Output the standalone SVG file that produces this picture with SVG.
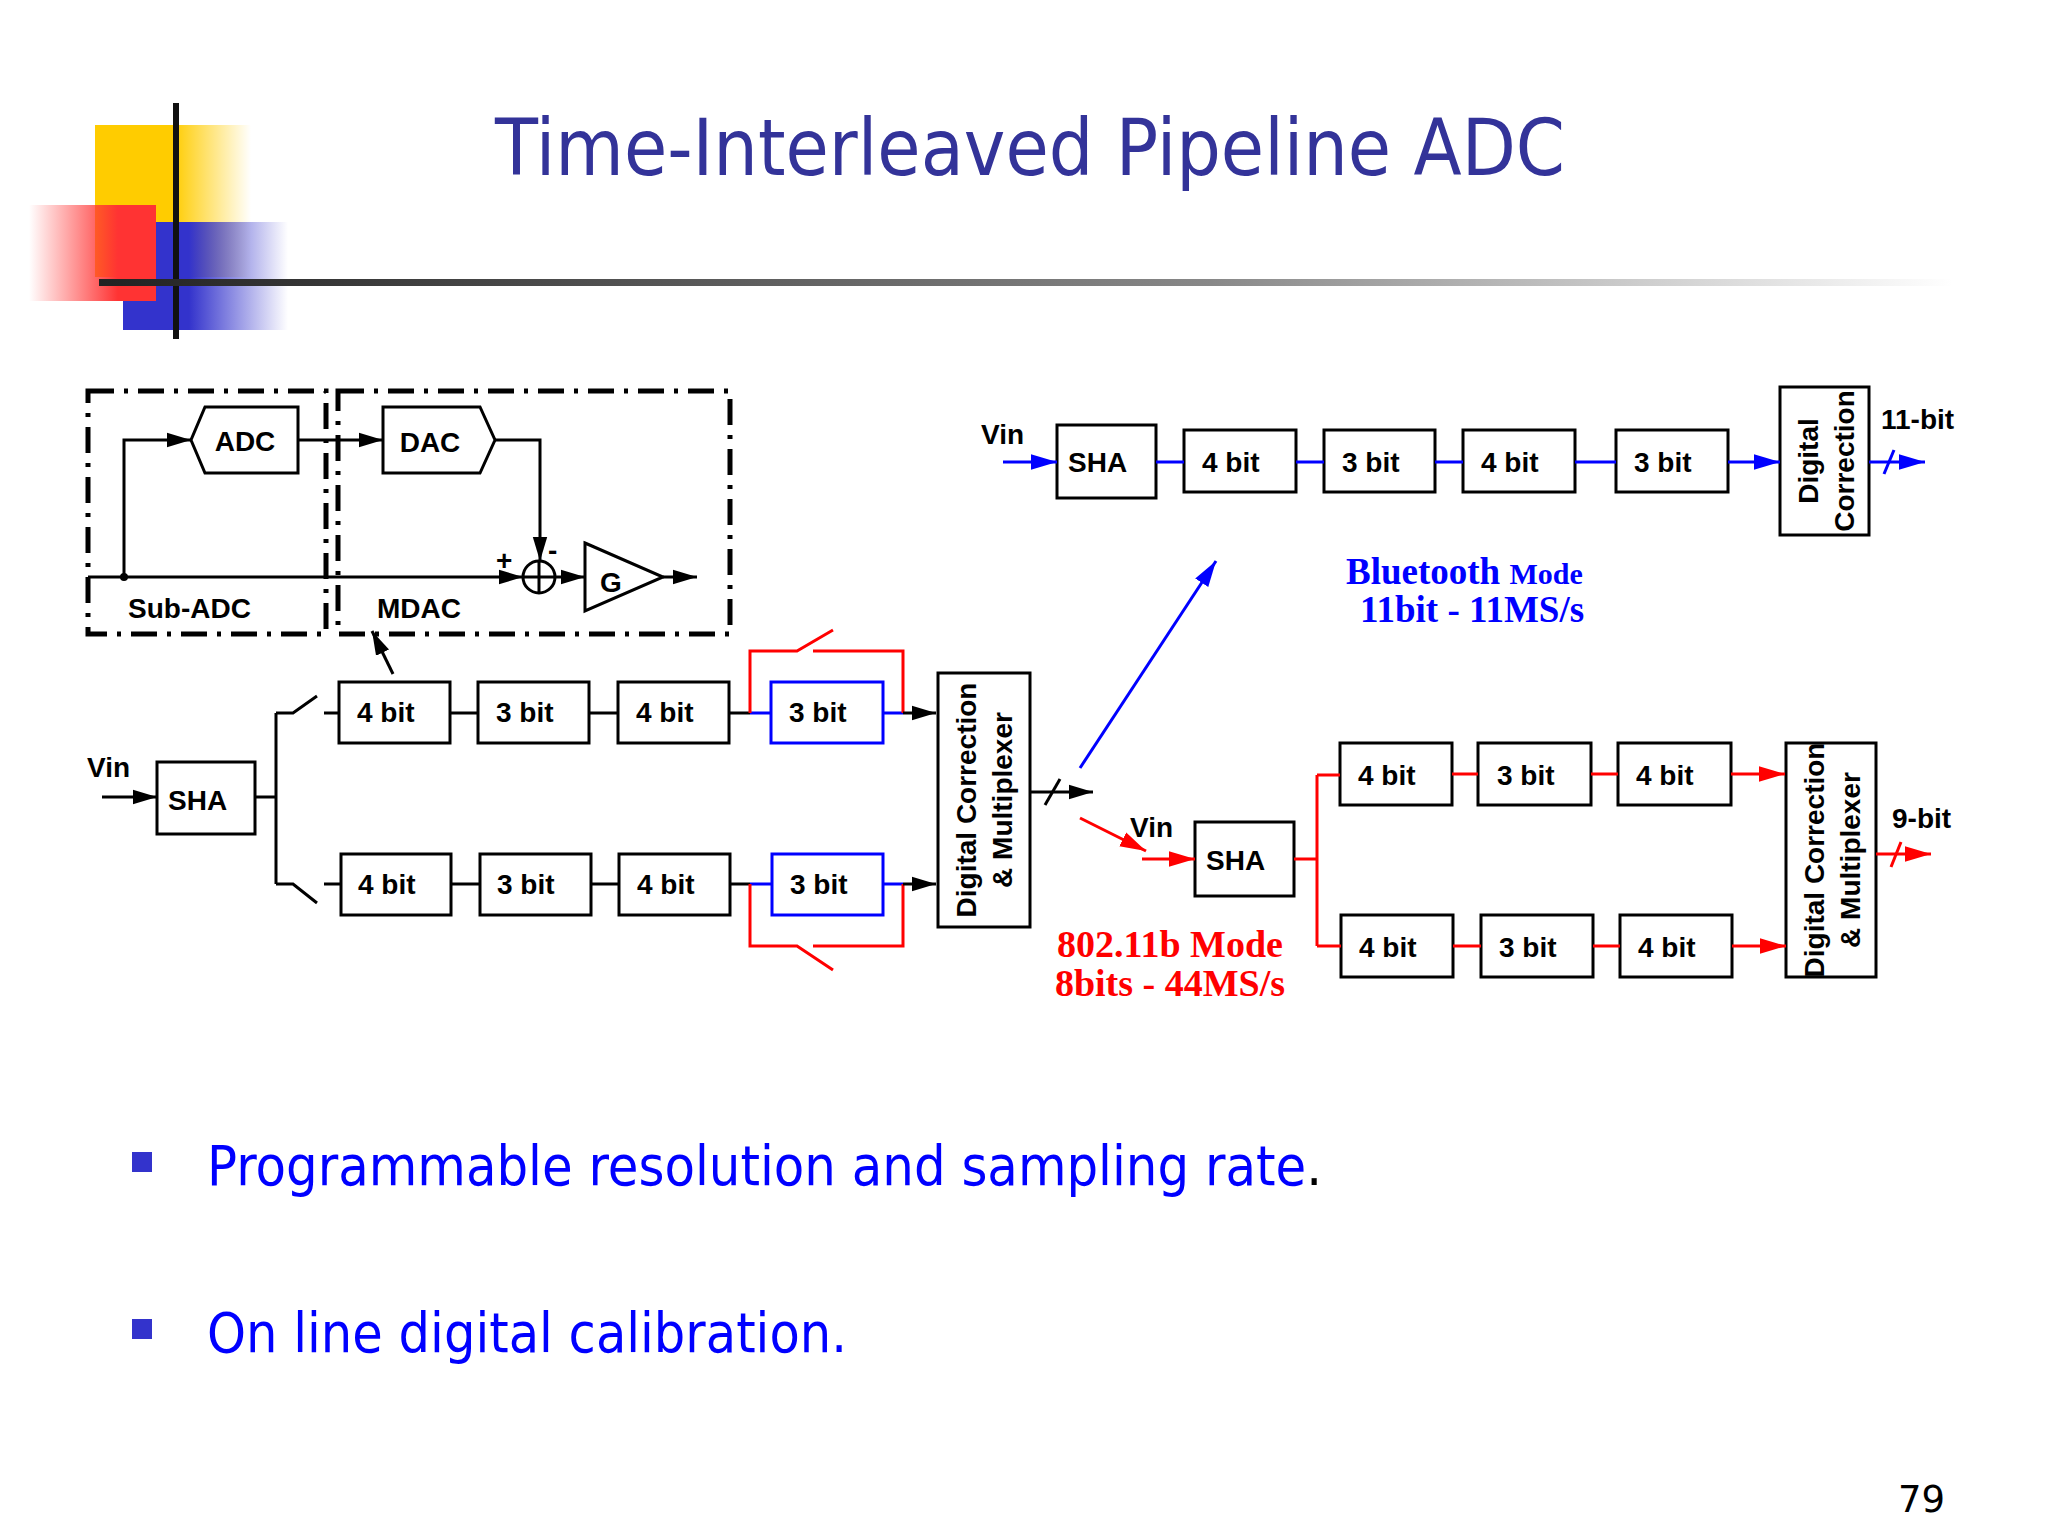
<svg xmlns="http://www.w3.org/2000/svg" width="2048" height="1536" viewBox="0 0 2048 1536">
<defs>
<style>
.b{fill:#fff;stroke:#000;stroke-width:3}
.bb{fill:#fff;stroke:#0000ff;stroke-width:3}
.t{font-family:"Liberation Sans",Arial,sans-serif;font-weight:bold;font-size:28px;fill:#000}
.k{stroke:#000;stroke-width:3;fill:none}
.u{stroke:#0000ff;stroke-width:3;fill:none}
.r{stroke:#ff0000;stroke-width:3;fill:none}
.d{stroke:#000;stroke-width:5;fill:none;stroke-dasharray:26 10 4 10}
</style>
<marker id="mk" viewBox="0 0 10 10" refX="10" refY="5" markerWidth="24" markerHeight="24" orient="auto" markerUnits="userSpaceOnUse" preserveAspectRatio="none"><path d="M0,2L10,5L0,8z" fill="#000"/></marker>
<marker id="mu" viewBox="0 0 10 10" refX="10" refY="5" markerWidth="26" markerHeight="26" orient="auto" markerUnits="userSpaceOnUse" preserveAspectRatio="none"><path d="M0,2L10,5L0,8z" fill="#0000ff"/></marker>
<marker id="mr" viewBox="0 0 10 10" refX="10" refY="5" markerWidth="26" markerHeight="26" orient="auto" markerUnits="userSpaceOnUse" preserveAspectRatio="none"><path d="M0,2L10,5L0,8z" fill="#ff0000"/></marker>
<linearGradient id="gy" x1="0" x2="1"><stop offset="0.5" stop-color="#ffcc00"/><stop offset="1" stop-color="#ffcc00" stop-opacity="0"/></linearGradient>
<linearGradient id="gr" x1="1" x2="0"><stop offset="0.3" stop-color="#ff3333"/><stop offset="1" stop-color="#ff3333" stop-opacity="0"/></linearGradient>
<linearGradient id="gb" x1="0" x2="1"><stop offset="0.4" stop-color="#3333cc"/><stop offset="1" stop-color="#3333cc" stop-opacity="0"/></linearGradient>
<linearGradient id="gl" x1="0" x2="1"><stop offset="0" stop-color="#222"/><stop offset="0.6" stop-color="#888"/><stop offset="1" stop-color="#fff"/></linearGradient>
</defs>
<rect width="2048" height="1536" fill="#fff"/>
<g id="logo">
<rect x="95" y="125" width="156" height="152" fill="url(#gy)"/>
<rect x="123" y="222" width="165" height="108" fill="url(#gb)"/>
<rect x="29" y="205" width="127" height="96" fill="url(#gr)"/>
<rect x="173" y="103" width="6" height="236" fill="#111"/>
<rect x="99" y="279" width="1854" height="7" fill="url(#gl)"/>
</g>
<text x="1030" y="175" text-anchor="middle" font-family="Tahoma,'DejaVu Sans',sans-serif" font-size="78" fill="#333399" textLength="1070" lengthAdjust="spacingAndGlyphs">Time-Interleaved Pipeline ADC</text>

<g id="stage-detail">
<rect x="88" y="391" width="238" height="243" class="d"/>
<rect x="338" y="391" width="392" height="243" class="d"/>
<polygon points="205,407 298,407 298,473 205,473 191,440" class="b"/>
<text x="245" y="451" class="t" text-anchor="middle">ADC</text>
<polygon points="383,407 480,407 495,440 480,473 383,473" class="b"/>
<text x="430" y="452" class="t" text-anchor="middle">DAC</text>
<circle cx="539" cy="577" r="16" class="k"/>
<path d="M523,577H555M539,561V593" class="k"/>
<polygon points="585,543 663,577 585,611" class="b"/>
<text x="600" y="592" class="t">G</text>
<text x="496" y="570" class="t">+</text>
<text x="548" y="560" class="t">-</text>
<text x="128" y="618" class="t">Sub-ADC</text>
<text x="377" y="618" class="t">MDAC</text>
</g>
<g id="lower-left">
<text x="87" y="777" class="t">Vin</text>
<rect x="157" y="762" width="98" height="72" class="b"/><text x="168" y="810" class="t" font-size="30">SHA</text>
<rect x="339" y="682" width="111" height="61" class="b"/><text x="357" y="722" class="t">4 bit</text>
<rect x="478" y="682" width="111" height="61" class="b"/><text x="496" y="722" class="t">3 bit</text>
<rect x="618" y="682" width="111" height="61" class="b"/><text x="636" y="722" class="t">4 bit</text>
<rect x="771" y="682" width="112" height="61" class="bb"/><text x="789" y="722" class="t" fill="#0000ff">3 bit</text>
<rect x="341" y="854" width="110" height="61" class="b"/><text x="358" y="894" class="t">4 bit</text>
<rect x="480" y="854" width="111" height="61" class="b"/><text x="497" y="894" class="t">3 bit</text>
<rect x="619" y="854" width="111" height="61" class="b"/><text x="637" y="894" class="t">4 bit</text>
<rect x="772" y="854" width="111" height="61" class="bb"/><text x="790" y="894" class="t" fill="#0000ff">3 bit</text>
<rect x="938" y="673" width="92" height="254" class="b"/>
<text transform="translate(976,800) rotate(-90)" class="t" font-size="25" text-anchor="middle">Digital Correction</text>
<text transform="translate(1012,800) rotate(-90)" class="t" font-size="25" text-anchor="middle">&amp; Multiplexer</text>
</g>
<g id="top-right">
<text x="981" y="444" class="t">Vin</text>
<rect x="1057" y="425" width="99" height="73" class="b"/><text x="1068" y="472" class="t" font-size="30">SHA</text>
<rect x="1184" y="430" width="112" height="62" class="b"/><text x="1202" y="472" class="t">4 bit</text>
<rect x="1324" y="430" width="111" height="62" class="b"/><text x="1342" y="472" class="t">3 bit</text>
<rect x="1463" y="430" width="112" height="62" class="b"/><text x="1481" y="472" class="t">4 bit</text>
<rect x="1616" y="430" width="112" height="62" class="b"/><text x="1634" y="472" class="t">3 bit</text>
<rect x="1780" y="387" width="89" height="148" class="b"/>
<text transform="translate(1818,461) rotate(-90)" class="t" font-size="26" text-anchor="middle">Digital</text>
<text transform="translate(1854,461) rotate(-90)" class="t" font-size="26" text-anchor="middle">Correction</text>
<text x="1881" y="429" class="t">11-bit</text>
<text x="1346" y="584" font-family="'Liberation Serif',serif" font-weight="bold" font-size="37" fill="#0000ff">Bluetooth <tspan font-size="30">Mode</tspan></text>
<text x="1360" y="622" font-family="'Liberation Serif',serif" font-weight="bold" font-size="37" fill="#0000ff">11bit - 11MS/s</text>
</g>
<g id="bottom-right">
<text x="1130" y="837" class="t">Vin</text>
<rect x="1195" y="822" width="99" height="74" class="b"/><text x="1206" y="870" class="t" font-size="30">SHA</text>
<rect x="1340" y="743" width="112" height="62" class="b"/><text x="1358" y="785" class="t">4 bit</text>
<rect x="1478" y="743" width="113" height="62" class="b"/><text x="1497" y="785" class="t">3 bit</text>
<rect x="1618" y="743" width="113" height="62" class="b"/><text x="1636" y="785" class="t">4 bit</text>
<rect x="1341" y="915" width="112" height="62" class="b"/><text x="1359" y="957" class="t">4 bit</text>
<rect x="1481" y="915" width="112" height="62" class="b"/><text x="1499" y="957" class="t">3 bit</text>
<rect x="1620" y="915" width="112" height="62" class="b"/><text x="1638" y="957" class="t">4 bit</text>
<rect x="1786" y="743" width="90" height="234" class="b"/>
<text transform="translate(1824,860) rotate(-90)" class="t" font-size="24" text-anchor="middle">Digital Correction</text>
<text transform="translate(1860,860) rotate(-90)" class="t" font-size="24" text-anchor="middle">&amp; Multiplexer</text>
<text x="1892" y="828" class="t">9-bit</text>
<text x="1170" y="957" text-anchor="middle" font-family="'Liberation Serif',serif" font-weight="bold" font-size="38" fill="#ff0000">802.11b Mode</text>
<text x="1170" y="996" text-anchor="middle" font-family="'Liberation Serif',serif" font-weight="bold" font-size="38" fill="#ff0000">8bits - 44MS/s</text>
</g>
<g id="connectors">
<path d="M124,577V440H191" class="k" marker-end="url(#mk)"/>
<path d="M88,577H523" class="k" marker-end="url(#mk)"/>
<circle cx="124" cy="577" r="4" fill="#000"/>
<path d="M298,440H383" class="k" marker-end="url(#mk)"/>
<path d="M495,440H540V561" class="k" marker-end="url(#mk)"/>
<path d="M555,577H585" class="k" marker-end="url(#mk)"/>
<path d="M663,577H697" class="k" marker-end="url(#mk)"/>
<path d="M393,674L372,631" class="k" marker-end="url(#mk)"/>
<path d="M102,797H157" class="k" marker-end="url(#mk)"/>
<path d="M255,797H276M276,713V884M276,713H293L317,696M324,713H339M276,884H293L317,903M324,884H341" class="k"/>
<path d="M450,713H478M589,713H618M729,713H750M451,884H480M591,884H619M730,884H750" class="k"/>
<path d="M750,713H771M883,713H903M750,884H772M883,884H903" class="u"/>
<path d="M750,713V651H797L833,630M813,651H903V713" class="r"/>
<path d="M750,884V946H797L833,970M813,946H903V884" class="r"/>
<path d="M903,713H936" class="k" marker-end="url(#mk)"/>
<path d="M903,884H936" class="k" marker-end="url(#mk)"/>
<path d="M1030,792H1093" class="k" marker-end="url(#mk)"/>
<path d="M1045,805L1060,779" class="k"/>
<path d="M1080,768L1216,561" class="u" marker-end="url(#mu)"/>
<path d="M1080,818L1146,851" class="r" marker-end="url(#mr)"/>
<path d="M1003,462H1057" class="u" marker-end="url(#mu)"/>
<path d="M1156,462H1184M1296,462H1324M1435,462H1463M1575,462H1616" class="u" stroke-width="4"/>
<path d="M1728,462H1780" class="u" stroke-width="4" marker-end="url(#mu)"/>
<path d="M1869,462H1925" class="u" marker-end="url(#mu)"/>
<path d="M1884,474L1894,450" class="u"/>
<path d="M1142,859H1195" class="r" marker-end="url(#mr)"/>
<path d="M1294,859H1317M1317,775V946M1317,775H1340M1317,946H1341M1452,774H1478M1591,774H1618M1453,946H1481M1593,946H1620" class="r" stroke-width="4"/>
<path d="M1731,774H1785" class="r" stroke-width="4" marker-end="url(#mr)"/>
<path d="M1732,946H1786" class="r" stroke-width="4" marker-end="url(#mr)"/>
<path d="M1876,854H1931" class="r" marker-end="url(#mr)"/>
<path d="M1891,867L1901,842" class="r"/>
</g>
<g id="bullets" font-family="Tahoma,'DejaVu Sans',sans-serif" font-size="56">
<rect x="132" y="1152" width="20" height="20" fill="#3333cc"/>
<text x="207" y="1185" fill="#0000ff" textLength="1115" lengthAdjust="spacingAndGlyphs">Programmable resolution and sampling rate<tspan fill="#000">.</tspan></text>
<rect x="132" y="1319" width="20" height="20" fill="#3333cc"/>
<text x="207" y="1352" fill="#0000ff" textLength="640" lengthAdjust="spacingAndGlyphs">On line digital calibration.</text>
</g>
<text x="1945" y="1512" text-anchor="end" font-family="Tahoma,'DejaVu Sans',sans-serif" font-size="37" fill="#000">79</text>
</svg>
